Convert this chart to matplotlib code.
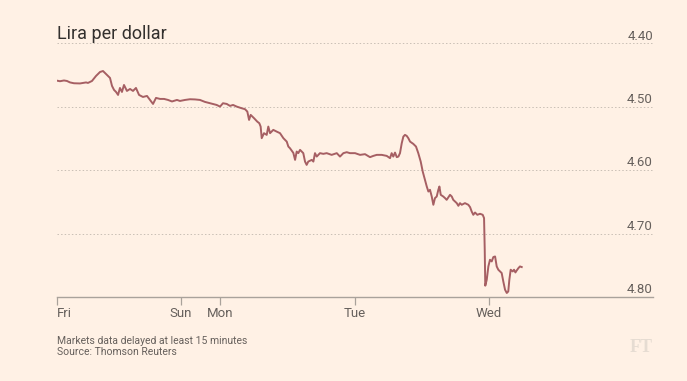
import matplotlib
matplotlib.use("Agg")
import matplotlib.pyplot as plt
import matplotlib.transforms as mtransforms
from matplotlib import font_manager

# ---------------- data ----------------
# time in "trading-day units" from Friday open
t = [0.000, 0.022, 0.052, 0.074, 0.097, 0.126, 0.171, 0.216, 0.230, 0.260,
     0.290, 0.320, 0.342, 0.364, 0.394, 0.409, 0.424, 0.439, 0.454, 0.468,
     0.483, 0.498, 0.520, 0.543, 0.565, 0.587, 0.610, 0.639, 0.669, 0.691,
     0.714, 0.736, 0.766, 0.796, 0.825, 0.855, 0.892, 0.914, 0.952, 0.989,
     1.026, 1.063, 1.100, 1.138, 1.187, 1.212, 1.234, 1.262, 1.286, 1.309,
     1.336, 1.373, 1.398, 1.415, 1.428, 1.440, 1.465, 1.489, 1.504, 1.514,
     1.522, 1.539, 1.559, 1.571, 1.584, 1.596, 1.608, 1.633, 1.658, 1.683,
     1.708, 1.720, 1.732, 1.757, 1.770, 1.782, 1.794, 1.807, 1.831, 1.844,
     1.856, 1.868, 1.894, 1.906, 1.918, 1.931, 1.955, 1.980, 2.005, 2.042,
     2.080, 2.104, 2.129, 2.154, 2.178, 2.216, 2.253, 2.290, 2.327, 2.352,
     2.377, 2.414, 2.451, 2.476, 2.488, 2.500, 2.513, 2.526, 2.538, 2.550,
     2.563, 2.575, 2.587, 2.600, 2.612, 2.625, 2.649, 2.669, 2.686, 2.704,
     2.719, 2.736, 2.749, 2.761, 2.773, 2.786, 2.798, 2.810, 2.823, 2.835,
     2.843, 2.853, 2.872, 2.885, 2.897, 2.922, 2.935, 2.946, 2.972, 2.984,
     2.996, 3.009, 3.033, 3.058, 3.071, 3.083, 3.095, 3.108, 3.125, 3.145,
     3.165, 3.175, 3.180, 3.184, 3.195, 3.207, 3.219, 3.232, 3.244, 3.257,
     3.269, 3.281, 3.294, 3.306, 3.318, 3.331, 3.344, 3.355, 3.363, 3.373,
     3.388, 3.398, 3.408, 3.418, 3.431, 3.442, 3.455]

lira = [4.4589, 4.4598, 4.4586, 4.4594, 4.4617, 4.4630, 4.4633, 4.4617, 4.4625, 4.4594,
        4.4515, 4.4452, 4.4437, 4.4483, 4.4546, 4.4672, 4.4735, 4.4767, 4.4814, 4.4704,
        4.4767, 4.4657, 4.4751, 4.4720, 4.4751, 4.4704, 4.4814, 4.4846, 4.4830, 4.4893,
        4.4956, 4.4861, 4.4877, 4.4877, 4.4893, 4.4917, 4.4893, 4.4909, 4.4893, 4.4882,
        4.4885, 4.4893, 4.4924, 4.4945, 4.4972, 4.4998, 4.4945, 4.4956, 4.4987, 4.4972,
        4.4998, 4.5024, 4.5039, 4.5077, 4.5208, 4.5129, 4.5181, 4.5235, 4.5260, 4.5313,
        4.5496, 4.5417, 4.5444, 4.5313, 4.5417, 4.5392, 4.5365, 4.5392, 4.5417, 4.5496,
        4.5550, 4.5628, 4.5654, 4.5728, 4.5838, 4.5707, 4.5732, 4.5680, 4.5732, 4.5865,
        4.5917, 4.5865, 4.5838, 4.5865, 4.5732, 4.5786, 4.5732, 4.5743, 4.5732, 4.5759,
        4.5732, 4.5786, 4.5732, 4.5717, 4.5732, 4.5732, 4.5759, 4.5748, 4.5795, 4.5775,
        4.5759, 4.5759, 4.5775, 4.5811, 4.5732, 4.5786, 4.5723, 4.5795, 4.5786, 4.5732,
        4.5575, 4.5471, 4.5444, 4.5460, 4.5496, 4.5550, 4.5586, 4.5628, 4.5732, 4.5865,
        4.6022, 4.6153, 4.6258, 4.6337, 4.6310, 4.6416, 4.6546, 4.6441, 4.6416, 4.6310,
        4.6258, 4.6389, 4.6416, 4.6441, 4.6468, 4.6389, 4.6416, 4.6468, 4.6520, 4.6562,
        4.6520, 4.6546, 4.6520, 4.6546, 4.6583, 4.6652, 4.6704, 4.6668, 4.6704, 4.6688,
        4.6704, 4.6756, 4.7255, 4.7822, 4.7728, 4.7518, 4.7413, 4.7439, 4.7370, 4.7361,
        4.7518, 4.7570, 4.7597, 4.7622, 4.7754, 4.7885, 4.7937, 4.7912, 4.7728, 4.7570,
        4.7597, 4.7570, 4.7613, 4.7581, 4.7543, 4.7518, 4.7528]

day_pos = [0.0, 0.922, 1.212, 2.216, 3.212]
day_labels = ["Fri", "Sun", "Mon", "Tue", "Wed"]
y_ticks = [4.40, 4.50, 4.60, 4.70, 4.80]
y_labels = ["4.40", "4.50", "4.60", "4.70", "4.80"]

title = "Lira per dollar"
note1 = "Markets data delayed at least 15 minutes"
note2 = "Source: Thomson Reuters"

# ---------------- style ----------------
available = {f.name for f in font_manager.fontManager.ttflist}
narrow = "Liberation Sans Narrow" if "Liberation Sans Narrow" in available else "Roboto"
plt.rcParams["font.family"] = [narrow, "DejaVu Sans"]

BG = "#FFF1E5"
LINE = "#A65F63"
TXT = "#66605C"
GRID = "#C9BFB5"

fig = plt.figure(figsize=(6.87, 3.81), dpi=100, facecolor=BG)
ax = fig.add_axes([57/687, 1 - 297/381, (653 - 57)/687, (297 - 43.3)/381])
ax.set_facecolor(BG)

ax.plot(t, lira, color=LINE, lw=1.4, solid_joinstyle="round", zorder=3)

ax.set_ylim(4.80, 4.40)
ax.set_xlim(0, 4.431)

for s in ["top", "right", "left"]:
    ax.spines[s].set_visible(False)
ax.spines["bottom"].set_color("#A9A29B")
ax.spines["bottom"].set_linewidth(1.0)

for yv in y_ticks[:-1]:
    ax.axhline(yv, color=GRID, lw=0.7, ls=(0, (1.5, 2.2)), zorder=1)

ax.set_yticks([])
ax.set_xticks(day_pos)
ax.set_xticklabels(day_labels)
ax.tick_params(axis="x", direction="out", length=6, width=0.9, color="#A9A29B",
               labelcolor=TXT, labelsize=9.5, pad=1.5)
lbls = ax.get_xticklabels()
lbls[0].set_horizontalalignment("left")

trans = mtransforms.blended_transform_factory(ax.transAxes, ax.transData)
offset = mtransforms.ScaledTranslation(0, 0.5/72, fig.dpi_scale_trans)
for yv, lab in zip(y_ticks, y_labels):
    ax.text(1.0, yv, lab, transform=trans + offset, ha="right", va="bottom",
            fontsize=9.5, color=TXT)

fig.text(57/687, 1 - 34/381, title, fontsize=13, color="#33302E",
         ha="left", va="center")
fig.text(57/687, 1 - 341/381, note1, fontsize=7.5, color=TXT, ha="left", va="center")
fig.text(57/687, 1 - 352/381, note2, fontsize=7.5, color=TXT, ha="left", va="center")
fig.text(653/687, 1 - 347/381, "FT", fontsize=13, color="#E6DCD2", ha="right",
         va="center", family=["Liberation Serif", "DejaVu Serif"], weight="bold")

fig.savefig("out.png", dpi=100, facecolor=BG)
